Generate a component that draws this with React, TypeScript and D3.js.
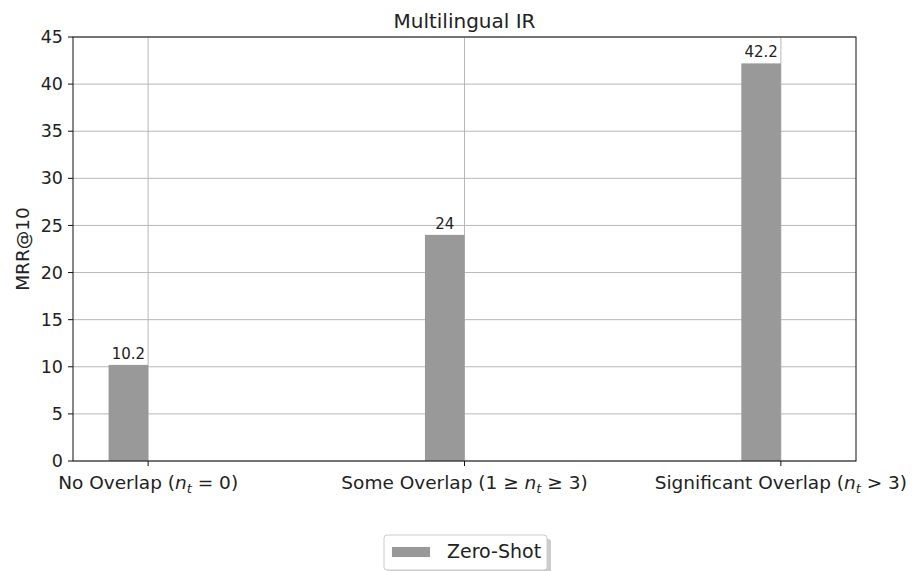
import React from "react";
import * as d3 from "d3";

// values
const categories = ["No Overlap", "Some Overlap", "Significant Overlap"];
const conditions = [["(", "= 0)"], ["(1 ≥ ", "≥ 3)"], ["(", "> 3)"]];
const zeroShot = [10.2, 24, 42.2];
const yTicks = [0, 5, 10, 15, 20, 25, 30, 35, 40, 45];

const W = 912;
const H = 571;
const margin = { top: 37, left: 73, right: 56, bottom: 110 };
const font = "DejaVu Sans, sans-serif";
const barColor = "#999999";
const gridColor = "#b0b0b0";
const barW = 0.125;

export default function App() {
  const x = d3
    .scaleLinear()
    .domain([-0.2375, 2.2375])
    .range([margin.left, W - margin.right]);
  const y = d3
    .scaleLinear()
    .domain([0, 45])
    .range([H - margin.bottom, margin.top]);

  const x0 = margin.left;
  const x1 = W - margin.right;
  const y0 = y(0);
  const yTop = y(45);

  return (
    <svg
      width={W}
      height={H}
      style={{ position: "absolute", left: 0, top: 0, background: "#fff" }}
      fontFamily={font}
    >
      <rect width={W} height={H} fill="#fff" />
      {/* grid */}
      {yTicks.map((t) => (
        <line key={"gy" + t} x1={x0} x2={x1} y1={y(t)} y2={y(t)} stroke={gridColor} strokeWidth={0.9} />
      ))}
      {categories.map((c, i) => (
        <line key={"gx" + i} x1={x(i)} x2={x(i)} y1={yTop} y2={y0} stroke={gridColor} strokeWidth={0.9} />
      ))}
      {/* bars */}
      {zeroShot.map((v, i) => (
        <g key={"b" + i}>
          <rect
            x={x(i - barW)}
            y={y(v)}
            width={x(i) - x(i - barW)}
            height={y0 - y(v)}
            fill={barColor}
          />
          <text
            x={x(i - barW / 2)}
            y={y(v) - 6}
            textAnchor="middle"
            fontSize={15}
            fill="#222"
          >
            {v}
          </text>
        </g>
      ))}
      {/* frame */}
      <rect x={x0} y={yTop} width={x1 - x0} height={y0 - yTop} fill="none" stroke="#111" strokeWidth={1} />
      {/* y axis */}
      {yTicks.map((t) => (
        <g key={"yt" + t}>
          <line x1={x0 - 5} x2={x0} y1={y(t)} y2={y(t)} stroke="#111" />
          <text x={x0 - 10} y={y(t)} dy="0.35em" textAnchor="end" fontSize={17.5} fill="#222">
            {t}
          </text>
        </g>
      ))}
      {/* x axis */}
      {categories.map((c, i) => (
        <g key={"xt" + i}>
          <line x1={x(i)} x2={x(i)} y1={y0} y2={y0 + 5} stroke="#111" />
          <text x={x(i)} y={y0 + 28} textAnchor="middle" fontSize={18.5} fill="#222">
            {c + " " + conditions[i][0]}
            <tspan fontStyle="italic">n</tspan>
            <tspan fontStyle="italic" fontSize={13} dy={4}>t</tspan>
            <tspan dy={-4}>{" " + conditions[i][1]}</tspan>
          </text>
        </g>
      ))}
      <text x={(x0 + x1) / 2} y={28} textAnchor="middle" fontSize={20} fill="#222">
        Multilingual IR
      </text>
      <text
        transform={`translate(29,${(yTop + y0) / 2}) rotate(-90)`}
        textAnchor="middle"
        fontSize={18.5}
        fill="#222"
      >
        MRR@10
      </text>
      {/* legend */}
      <g>
        <rect x={388} y={539} width={163} height={35} rx={3} fill="#999" opacity={0.5} />
        <rect x={384} y={535} width={163} height={35} rx={3} fill="#fff" stroke="#ccc" />
        <rect x={392} y={547} width={38} height={10} fill={barColor} />
        <text x={447} y={558} fontSize={19} fill="#222">
          Zero-Shot
        </text>
      </g>
    </svg>
  );
}
